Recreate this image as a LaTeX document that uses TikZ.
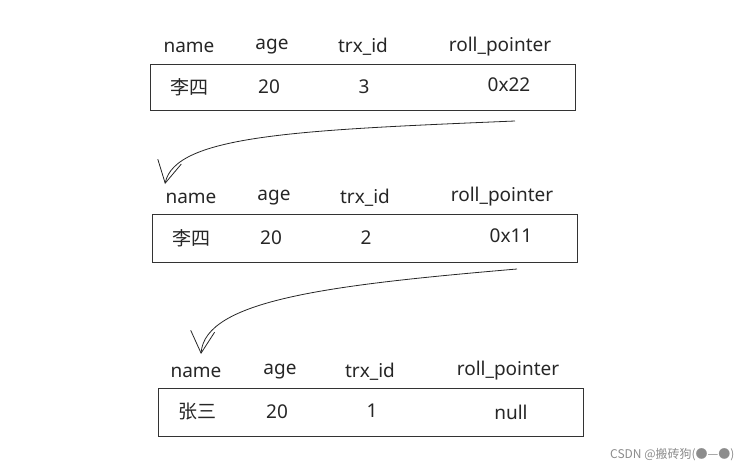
\documentclass[tikz,border=0pt]{standalone}
\usepackage{fontspec}
\setmainfont{Noto Sans}
\newfontfamily\cjk{Noto Sans CJK SC}
\usetikzlibrary{arrows.meta}
\begin{document}
\begin{tikzpicture}[x=1pt,y=-1pt,
  rec/.style={draw=black!80,line width=0.9pt},
  lab/.style={font=\fontsize{19}{21}\selectfont,text=black!85},
  link/.style={draw=black!85,line width=0.8pt,-{Straight Barb[length=22pt,width=24pt,line width=0.8pt]}}]
\useasboundingbox (0,0) rectangle (741,468);
% box 1
\node[rec,minimum width=425pt,minimum height=46pt,anchor=north west] (b1) at (150,64) {};
\node[lab] (h1a) at (189,47) {name};
\node[lab] (h1b) at (272,47) {age};
\node[lab] (h1c) at (363,47) {trx\_id};
\node[lab] (h1d) at (500,47) {roll\_pointer};
\node[lab] (d1a) at (189,87) {\cjk 李四};
\node[lab] (d1b) at (269,87) {20};
\node[lab] (d1c) at (364,87) {3};
\node[lab] (d1d) at (509,85) {0x22};
% box 2
\node[rec,minimum width=425pt,minimum height=48pt,anchor=north west] (b2) at (152,214) {};
\node[lab] (h2a) at (191,198) {name};
\node[lab] (h2b) at (274,198) {age};
\node[lab] (h2c) at (365,198) {trx\_id};
\node[lab] (h2d) at (502,197) {roll\_pointer};
\node[lab] (d2a) at (191,238) {\cjk 李四};
\node[lab] (d2b) at (271,238) {20};
\node[lab] (d2c) at (366,238) {2};
\node[lab] (d2d) at (511,236) {0x11};
% box 3
\node[rec,minimum width=425pt,minimum height=48pt,anchor=north west] (b3) at (158,388) {};
\node[lab] (h3a) at (196,372) {name};
\node[lab] (h3b) at (280,372) {age};
\node[lab] (h3c) at (370,372) {trx\_id};
\node[lab] (h3d) at (508,371) {roll\_pointer};
\node[lab] (d3a) at (197,412) {\cjk 张三};
\node[lab] (d3b) at (277,412) {20};
\node[lab] (d3c) at (372,411) {1};
\node[lab] (d3d) at (511,412) {null};
% connectors
\coordinate (s1) at (515,121);
\coordinate (e1) at (165,184);
\coordinate (s2) at (517,269);
\coordinate (e2) at (201,354);
\draw[link] (s1) .. controls (300,130) and (175,135) .. (e1);
\draw[link] (s2) .. controls (330,285) and (205,300) .. (e2);
\node[font=\cjk\fontsize{12}{13}\selectfont,text=black!45,anchor=east] (wm) at (738,455) {CSDN @搬砖狗(●—●)};
\end{tikzpicture}
\end{document}
